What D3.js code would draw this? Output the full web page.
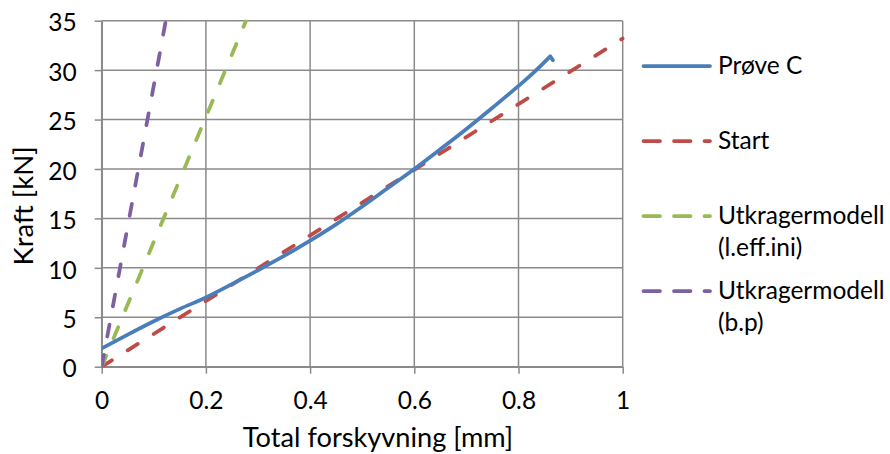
<!DOCTYPE html>
<html>
<head>
<meta charset="utf-8">
<script src="https://cdn.jsdelivr.net/npm/d3@7"></script>
<style>
  html, body { margin: 0; padding: 0; background: #fff; }
  svg { display: block; font-family: Lato, "Open Sans", sans-serif; }
</style>
</head>
<body>
<svg id="chart" width="890" height="454"></svg>
<script>
// Force–displacement curves: measured specimen C and three model lines
const proveX = [0, 0.05, 0.1, 0.15, 0.2, 0.25, 0.3, 0.35, 0.4, 0.45, 0.5, 0.55, 0.6, 0.65, 0.7, 0.75, 0.8, 0.83, 0.861, 0.866];
const proveY = [1.85, 3.25, 4.6, 5.85, 7.0, 8.35, 9.75, 11.2, 12.75, 14.4, 16.2, 18.1, 20.0, 22.0, 24.05, 26.2, 28.4, 29.8, 31.4, 31.0];
const startX = [0, 1];
const startY = [0, 33.2];
const leffX = [0, 0.277];
const leffY = [0, 35];
const bpX = [0, 0.123];
const bpY = [0, 35];

const xTicks = [0, 0.2, 0.4, 0.6, 0.8, 1];
const yTicks = [0, 5, 10, 15, 20, 25, 30, 35];

const seriesNames = [["Prøve C"], ["Start"], ["Utkragermodell", "(l.eff.ini)"], ["Utkragermodell", "(b.p)"]];
const seriesColors = ["#4a7ebb", "#be4b48", "#98b954", "#7d60a0"];
const seriesDashed = [false, true, true, true];
const seriesX = [proveX, startX, leffX, bpX];
const seriesY = [proveY, startY, leffY, bpY];

const plot = { left: 101.7, right: 622.7, top: 20.7, bottom: 366.7 };
const gridColor = "#8a8a8a";
const font = "Lato, 'Open Sans', sans-serif";

const svg = d3.select("#chart");

const x = d3.scaleLinear().domain([0, 1]).range([plot.left, plot.right]);
const y = d3.scaleLinear().domain([0, 35]).range([plot.bottom, plot.top]);

// grid
const grid = svg.append("g").attr("stroke", gridColor).attr("stroke-width", 1.5);
grid.selectAll("line.h").data(yTicks).join("line")
  .attr("x1", plot.left).attr("x2", plot.right)
  .attr("y1", d => y(d)).attr("y2", d => y(d));
grid.selectAll("line.v").data(xTicks).join("line")
  .attr("y1", plot.top).attr("y2", plot.bottom)
  .attr("x1", d => x(d)).attr("x2", d => x(d));

// axes
const yAxis = svg.append("g")
  .attr("transform", `translate(${plot.left},0)`)
  .call(d3.axisLeft(y).tickValues(yTicks).tickSize(7).tickSizeOuter(0).tickPadding(18).tickFormat(d => String(d)));
const xAxis = svg.append("g")
  .attr("transform", `translate(0,${plot.bottom})`)
  .call(d3.axisBottom(x).tickValues(xTicks).tickSize(7).tickSizeOuter(0).tickFormat(d => String(d)));

[yAxis, xAxis].forEach(a => {
  a.select(".domain").attr("stroke", gridColor).attr("stroke-width", 1.5);
  a.selectAll(".tick line").attr("stroke", gridColor).attr("stroke-width", 1.5);
  a.selectAll(".tick text").attr("fill", "#000").style("font-size", "24.5px").style("font-family", font);
});
yAxis.selectAll(".tick text").attr("dy", "0.42em");
xAxis.selectAll(".tick text").attr("y", 42.6).attr("dy", 0);

// axis titles
svg.append("text")
  .attr("x", 378).attr("y", 447)
  .attr("text-anchor", "middle")
  .style("font-size", "27.2px")
  .attr("fill", "#000")
  .text("Total forskyvning [mm]");
svg.append("text")
  .attr("transform", "translate(33.3,206) rotate(-90)")
  .attr("text-anchor", "middle")
  .style("font-size", "27.5px")
  .attr("fill", "#000")
  .text("Kraft [kN]");

// series
svg.append("clipPath").attr("id", "plotClip")
  .append("rect")
  .attr("x", plot.left).attr("y", plot.top - 1)
  .attr("width", plot.right - plot.left + 2).attr("height", plot.bottom - plot.top + 2);

const smooth = d3.line().x(d => x(d[0])).y(d => y(d[1])).curve(d3.curveMonotoneX);
const straight = d3.line().x(d => x(d[0])).y(d => y(d[1]));
const lines = svg.append("g").attr("clip-path", "url(#plotClip)");

// dashed model lines underneath, measured curve drawn last
[1, 2, 3, 0].forEach(i => {
  const pts = seriesX[i].map((v, k) => [v, seriesY[i][k]]);
  let d;
  if (i === 0) {
    // smooth loading branch, then the short unloading hook at failure
    const last = pts[pts.length - 1];
    d = smooth(pts.slice(0, -1)) + "L" + x(last[0]) + "," + y(last[1]);
  } else {
    d = straight(pts);
  }
  lines.append("path")
    .attr("d", d)
    .attr("fill", "none")
    .attr("stroke", seriesColors[i])
    .attr("stroke-width", 3.75)
    .attr("stroke-linecap", "round")
    .attr("stroke-linejoin", "round")
    .attr("stroke-dasharray", seriesDashed[i] ? "12,18.7" : null);
});

// legend
const legendRowY = [66, 141, 216, 291];
const legend = svg.append("g");
seriesNames.forEach((names, i) => {
  const g = legend.append("g");
  g.append("line")
    .attr("x1", 643.5).attr("x2", 710)
    .attr("y1", legendRowY[i]).attr("y2", legendRowY[i])
    .attr("stroke", seriesColors[i])
    .attr("stroke-width", 3.75)
    .attr("stroke-linecap", "round")
    .attr("stroke-dasharray", seriesDashed[i] ? "16.5,14" : null);
  const t = g.append("text")
    .attr("x", 718)
    .attr("y", legendRowY[i] + 8)
    .style("font-size", "24.5px")
    .attr("fill", "#000");
  names.forEach((n, k) => {
    t.append("tspan").attr("x", 718).attr("dy", k === 0 ? 0 : 32).text(n);
  });
});
</script>
</body>
</html>
